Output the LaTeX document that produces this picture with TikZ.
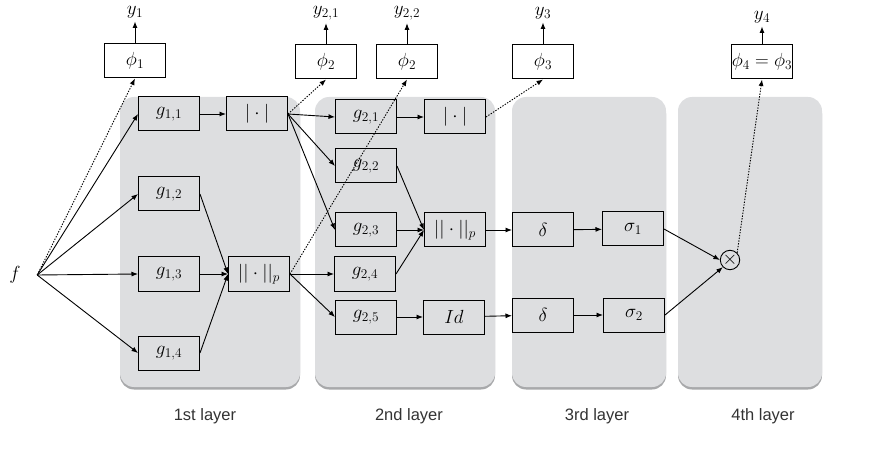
\RequirePackage{fix-cm}
\documentclass[tikz,border=0pt]{standalone}
\usepackage{fontspec}
\setsansfont{Liberation Sans}
\usetikzlibrary{graphs}
\usetikzlibrary{arrows.meta}

\definecolor{layerfill}{HTML}{DDDEE0}
\definecolor{layershadow}{HTML}{A8A9AB}
\definecolor{labeltext}{HTML}{333333}

\begin{document}
\begin{tikzpicture} [x=1pt, y=-1pt,
            >={Latex[length=6.5pt,width=5pt]},
            every node/.style={font=\fontsize{19}{22}\selectfont},
            box/.style={draw, line width=1pt, minimum width=61pt, minimum height=34pt, inner sep=1pt},
            outbox/.style={box, fill=white},
            lbl/.style={font=\sffamily\fontsize{16.5}{20}\selectfont, text=labeltext},
            conn/.style={->, line width=0.9pt},
            proj/.style={conn, dash pattern=on 1.4pt off 1.4pt}]
            \useasboundingbox (0,0) rectangle (873,457);

            % layers
            \foreach \xa/\xb in {120/300, 315/495, 512/666, 678/822} {
                \fill[layershadow, rounded corners=14pt] (\xa,99.5) rectangle (\xb,389.5);
                \fill[layerfill, rounded corners=14pt] (\xa,97) rectangle (\xb,387);
            }
            \node[lbl] (l1) at (205,416) {1st layer};
            \node[lbl] (l2) at (409,416) {2nd layer};
            \node[lbl] (l3) at (597,416) {3rd layer};
            \node[lbl] (l4) at (763,416) {4th layer};

            % input
            \node[minimum width=44pt, inner sep=0pt] (f) at (15,275) {$f$};

            % outputs
            \node[outbox] (phi1) at (135,61)  {$\phi_1$};
            \node[outbox] (phi2a) at (326,62) {$\phi_2$};
            \node[outbox] (phi2b) at (407,62) {$\phi_2$};
            \node[outbox] (phi3) at (543,62)  {$\phi_3$};
            \node[outbox, inner sep=0pt] (phi4) at (762,62) {$\phi_4=\phi_3$};
            \node (y1) at (135,12)  {$y_1$};
            \node (y21) at (326,13) {$y_{2,1}$};
            \node (y22) at (407,13) {$y_{2,2}$};
            \node (y3) at (543,13)  {$y_3$};
            \node (y4) at (762,17)  {$y_4$};

            % 1st layer
            \node[box] (g11) at (169,114)  {$g_{1,1}$};
            \node[box] (abs1) at (257,114) {$|\cdot|$};
            \node[box] (g12) at (169,194)  {$g_{1,2}$};
            \node[box] (g13) at (169,274)  {$g_{1,3}$};
            \node[box] (g14) at (169,353)  {$g_{1,4}$};
            \node[box] (norm1) at (259,274) {$||\cdot||_p$};

            % 2nd layer
            \node[box] (g21) at (366,117)  {$g_{2,1}$};
            \node[box] (abs2) at (455,117) {$|\cdot|$};
            \node[box] (g22) at (366,166)  {$g_{2,2}$};
            \node[box] (g23) at (366,230)  {$g_{2,3}$};
            \node[box] (g24) at (365,274)  {$g_{2,4}$};
            \node[box] (g25) at (366,317)  {$g_{2,5}$};
            \node[box] (norm2) at (455,230) {$||\cdot||_p$};
            \node[box] (id) at (454,317)   {$Id$};

            % 3rd layer
            \node[box] (delta1) at (543,230) {$\delta$};
            \node[box] (sigma1) at (633,229) {$\sigma_1$};
            \node[box] (delta2) at (543,315) {$\delta$};
            \node[box] (sigma2) at (634,315) {$\sigma_2$};

            % 4th layer
            \node[draw, circle, line width=0.9pt, inner sep=0pt, minimum size=18pt] (times) at (730,260) {$\times$};

            \foreach \g in {g11, g12, g13, g14}
                \draw[conn] (f.east) -- (\g.west);
            \draw[proj] (f.east) -- (phi1.south);
            \foreach \g in {g12, g13, g14}
                \draw[conn] (\g.east) -- (norm1.west);
            \foreach \g in {g21, g22, g23}
                \draw[conn] (abs1.east) -- (\g.west);
            \draw[proj] (abs1.east) -- (phi2a.south);
            \foreach \g in {g24, g25}
                \draw[conn] (norm1.east) -- (\g.west);
            \draw[proj] (norm1.east) -- (phi2b.south);
            \foreach \g in {g22, g23, g24}
                \draw[conn] (\g.east) -- (norm2.west);
            \draw[proj] (abs2.east) -- (phi3.south);
            \draw[conn] (sigma1.east) -- (times.west);
            \draw[conn] (sigma2.east) -- (times.south west);
            \draw[proj] (times.north east) -- (phi4.south);

            \graph[edges={conn}] {
                (g11) -> (abs1);
                (g21) -> (abs2);
                (g25) -> (id);
                (norm2) -> (delta1) -> (sigma1);
                (id) -> (delta2) -> (sigma2);
                (phi1) -> (y1);
                (phi2a) -> (y21);
                (phi2b) -> (y22);
                (phi3) -> (y3);
                (phi4) -> (y4);
            };
        \end{tikzpicture}
\end{document}
